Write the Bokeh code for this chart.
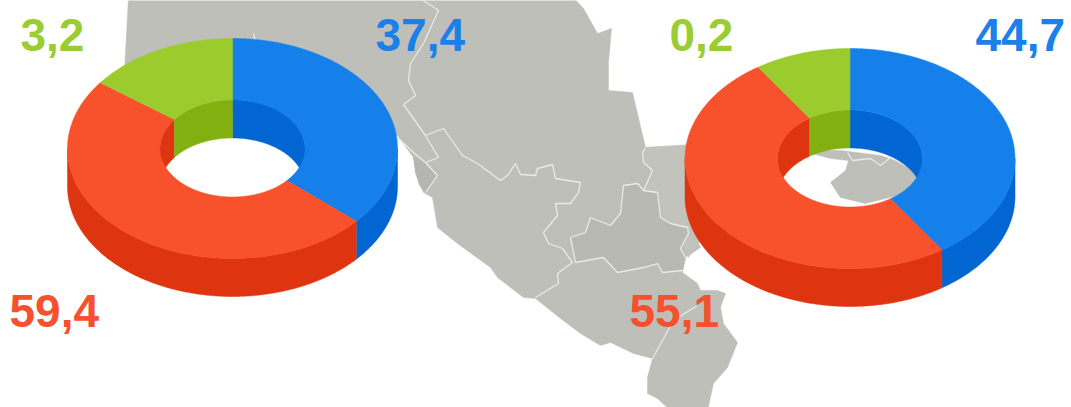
import numpy as np
from bokeh.plotting import figure
from bokeh.models import Range1d
from bokeh.core.properties import value
from bokeh.embed import file_html
from bokeh.resources import INLINE

# ---- data ----
slice_names = ["blue", "red", "green"]
left_labels = ["37,4", "59,4", "3,2"]
right_labels = ["44,7", "55,1", "0,2"]
# the slice shares as drawn in the picture (they differ from the printed labels)
left_shares = [36.5, 48.7, 14.8]
right_shares = [40.6, 50.0, 9.4]

top_colors = ["#1580EA", "#F7522B", "#9BCB2C"]
wall_colors = ["#0266D2", "#DE3510", "#82B011"]
text_colors = ["#1A80EA", "#F5512E", "#9ACD32"]

# map outlines
map_main = [(128, -3), (124, 70), (232, 110), (300, 120), (397, 135), (413, 157), (415, 173), (423, 192), (432, 197), (437, 227),
            (457, 243), (490, 267), (497, 277), (523, 297), (535, 298), (560, 318), (580, 333), (600, 345), (610, 342),
            (633, 353), (652, 358), (647, 377), (647, 393), (657, 398), (670, 410), (707, 410), (713, 383), (727, 367),
            (737, 342), (723, 323), (720, 307), (725, 293), (717, 290), (700, 290), (697, 283), (682, 272), (685, 257),
            (700, 247), (690, 227), (687, 145), (645, 147), (632, 92), (608, 90), (608, 62), (611, 28), (597, 33),
            (583, 8), (573, -3)]
map_east = [(645, 147), (690, 144), (700, 240), (688, 257), (685, 248), (680, 245), (687, 233), (686, 227),
            (670, 223), (660, 217), (657, 192), (643, 190), (652, 170), (643, 161), (642, 151)]
map_centre = [(643, 190), (636, 183), (623, 185), (620, 213), (610, 225), (590, 217), (585, 232), (570, 237), (575, 262),
              (603, 257), (617, 272), (643, 267), (657, 263), (662, 272), (682, 270), (685, 257), (680, 247), (687, 233),
              (686, 227), (670, 223), (660, 217), (657, 192)]
map_west_tip = [(413, 157), (425, 162), (437, 175), (425, 192), (419, 185), (415, 170)]
map_hole = [(800, 150), (840, 150), (880, 155), (925, 170), (920, 190), (885, 198), (865, 203), (840, 197), (830, 182),
            (845, 170), (848, 160), (830, 158), (800, 150)]

border_lines = [
    [(420, -2), (438, 10), (423, 43), (410, 63), (408, 80), (415, 95), (403, 104), (425, 135), (438, 157), (425, 162), (437, 175), (425, 192)],
    [(425, 135), (443, 128), (462, 155), (477, 163), (500, 180), (507, 175), (515, 163), (520, 174), (535, 175),
     (537, 168), (552, 164), (555, 178), (580, 182), (578, 192), (570, 203), (555, 203), (557, 215), (543, 232),
     (548, 243), (562, 248), (572, 262)],
    [(397, 137), (413, 152), (425, 162)],
    [(645, 147), (642, 152), (643, 162), (652, 170), (643, 190), (657, 192), (660, 217), (670, 223), (687, 227), (688, 233), (680, 248), (685, 257)],
    [(643, 190), (637, 183), (623, 185), (620, 213), (610, 225), (590, 217), (585, 232), (570, 237), (575, 262)],
    [(572, 262), (557, 273), (558, 283), (535, 297)],
    [(575, 262), (603, 257), (617, 272), (643, 267), (657, 263), (662, 272), (682, 270)],
    [(697, 305), (673, 320), (652, 358)],
    [(253, 33), (256, 46)],
    [(847, 152), (852, 160), (870, 158), (880, 165), (890, 157), (905, 165)],
]

# ---- layout ----
W, H = 1071, 407
RX, RY, HOLE_RX, HOLE_RY, DEPTH = 165, 110, 72.5, 48.5, 38
GREY, EAST, CENTRE, TIP = "#BEBFB8", "#C1C3BC", "#B8B9B3", "#B5B5B1"

p = figure(width=W, height=H, x_range=Range1d(0, W), y_range=Range1d(H, 0),
           output_backend="svg", toolbar_location=None, min_border=0,
           outline_line_color=None, background_fill_color="white", margin=(0, 0, 0, 0))
p.axis.visible = False
p.grid.visible = False


def xy(poly):
    return [c[0] for c in poly], [c[1] for c in poly]


for poly, col in [(map_main, GREY), (map_east, EAST), (map_centre, CENTRE), (map_west_tip, TIP), (map_hole, GREY)]:
    xs, ys = xy(poly)
    p.patch(xs, ys, fill_color=col, line_color=col, line_width=0.5)
for line in border_lines:
    xs, ys = xy(line)
    p.line(xs, ys, line_color="#EAEAE6", line_width=1.3)


def arc(cx, cy, rx, ry, a0, a1):
    t = np.radians(np.linspace(a0, a1, max(int(abs(a1 - a0)) * 2, 2)))
    return cx + rx * np.sin(t), cy - ry * np.cos(t)


def donut(cx, cy, shares):
    edges = np.concatenate([[0], np.cumsum(shares)]) * 3.6
    spans = list(zip(edges[:-1], edges[1:]))
    # outer wall: front half, angles 90..270
    for (a0, a1), col in zip(spans, wall_colors):
        s, e = max(a0, 90), min(a1, 270)
        if e > s:
            x1, y1 = arc(cx, cy, RX, RY, s, e)
            x2, y2 = arc(cx, cy + DEPTH, RX, RY, e, s)
            p.patch(np.r_[x1, x2], np.r_[y1, y2], fill_color=col, line_color=col, line_width=0.5)
    # inner wall: back half, angles 270..450
    for (a0, a1), col in zip(spans, wall_colors):
        for b0, b1 in [(a0, a1), (a0 - 360, a1 - 360)]:
            s, e = max(b0, -90), min(b1, 90)
            if e > s:
                x1, y1 = arc(cx, cy, HOLE_RX, HOLE_RY, s, e)
                x2, y2 = arc(cx, cy + DEPTH, HOLE_RX, HOLE_RY, e, s)
                p.patch(np.r_[x1, x2], np.r_[y1, y2], fill_color=col, line_color=col, line_width=0.5)
    # top ring
    for (a0, a1), col in zip(spans, top_colors):
        x1, y1 = arc(cx, cy, RX, RY, a0, a1)
        x2, y2 = arc(cx, cy, HOLE_RX, HOLE_RY, a1, a0)
        p.patch(np.r_[x1, x2], np.r_[y1, y2], fill_color=col, line_color=col, line_width=0.5)


donut(232, 148, left_shares)
donut(849.5, 158, right_shares)

FONT = value("Liberation Sans")
label_pos = {  # left edge, anchor y of each printed value
    "37,4": (375, 34), "59,4": (9, 310), "3,2": (20, 34),
    "44,7": (975, 34), "55,1": (629, 310), "0,2": (669, 34),
}
for labels in (left_labels, right_labels):
    for lab, col in zip(labels, text_colors):
        x, y = label_pos[lab]
        p.text([x], [y], text=[lab], text_color=col, text_font=FONT, text_font_style="bold",
               text_font_size="46px", text_align="left", text_baseline="alphabetic")

open("out.html", "w").write(file_html(p, INLINE))
